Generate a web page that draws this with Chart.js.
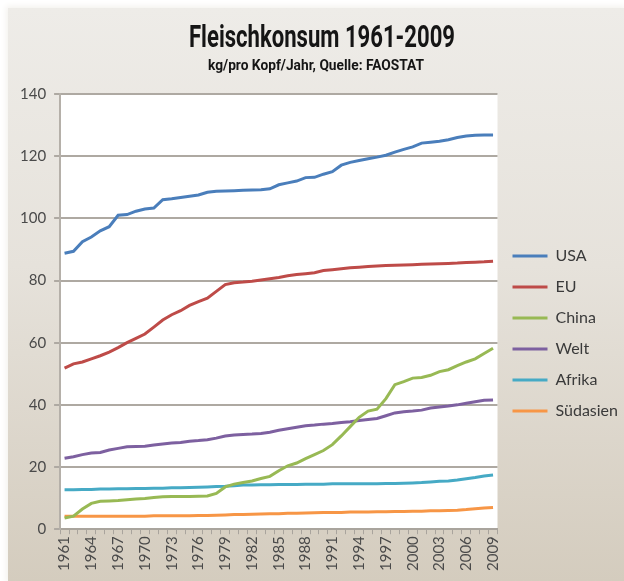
<!DOCTYPE html>
<html>
<head>
<meta charset="utf-8">
<script src="https://cdn.jsdelivr.net/npm/chart.js@4.4.0/dist/chart.umd.min.js"></script>
<style>
  html, body { margin: 0; padding: 0; background: #fff; }
  #wrap { position: relative; width: 624px; height: 581px; }
  #panel {
    position: absolute; left: 8px; top: 8px; right: 0; bottom: 0;
    background: linear-gradient(#eeece8, #e6e2db 45%, #d4ccbe);
    box-shadow: 0 0 6px 2px #f4f2ee;
  }
  canvas { position: absolute; left: 0; top: 0; }
</style>
</head>
<body>
<div id="wrap">
  <div id="panel"></div>
  <canvas id="meatChart" width="624" height="581"></canvas>
</div>
<script>
const chartTitle = "Fleischkonsum 1961-2009";
const chartSubtitle = "kg/pro Kopf/Jahr, Quelle: FAOSTAT";

const years = [];
for (let y = 1961; y <= 2009; y++) years.push(String(y));

const usa = [88.8, 89.4, 92.5, 94, 96, 97.3, 101, 101.2, 102.3, 103, 103.3, 106, 106.3, 106.7, 107.1, 107.5,
  108.4, 108.7, 108.8, 108.9, 109, 109.1, 109.2, 109.5, 110.8, 111.4, 112, 113.1, 113.2, 114.2, 115, 117.1,
  118, 118.6, 119.2, 119.7, 120.3, 121.3, 122.2, 123, 124.2, 124.5, 124.8, 125.3, 126, 126.5, 126.7, 126.8, 126.8];
const eu = [51.8, 53.2, 53.8, 54.8, 55.8, 57, 58.4, 60, 61.4, 62.8, 65, 67.3, 69, 70.3, 72, 73.2,
  74.3, 76.5, 78.7, 79.3, 79.5, 79.8, 80.2, 80.6, 81, 81.5, 81.9, 82.2, 82.5, 83.2, 83.5, 83.8,
  84.1, 84.3, 84.5, 84.7, 84.8, 84.9, 85, 85.1, 85.2, 85.3, 85.4, 85.5, 85.6, 85.8, 85.9, 86, 86.2];
const china = [3.6, 4.2, 6.5, 8.3, 9, 9.1, 9.2, 9.5, 9.7, 9.9, 10.2, 10.4, 10.5, 10.5, 10.5, 10.6,
  10.7, 11.5, 13.6, 14.5, 15, 15.5, 16.3, 17, 18.8, 20.4, 21.3, 22.7, 24, 25.3, 27.2, 30,
  33, 36, 38, 38.6, 42, 46.5, 47.5, 48.6, 48.8, 49.5, 50.7, 51.3, 52.6, 53.8, 54.8, 56.5, 58.2];
const welt = [22.8, 23.3, 24, 24.5, 24.7, 25.5, 26, 26.5, 26.6, 26.7, 27.1, 27.4, 27.7, 27.9, 28.3, 28.5,
  28.8, 29.3, 30, 30.3, 30.5, 30.6, 30.8, 31.2, 31.8, 32.3, 32.8, 33.3, 33.5, 33.8, 34, 34.3,
  34.6, 35, 35.3, 35.6, 36.5, 37.4, 37.8, 38, 38.3, 39, 39.3, 39.6, 40, 40.5, 41, 41.5, 41.6];
const afrika = [12.7, 12.7, 12.8, 12.8, 12.9, 12.9, 13, 13, 13.1, 13.1, 13.2, 13.2, 13.3, 13.3, 13.4, 13.5,
  13.6, 13.7, 13.8, 14, 14.2, 14.2, 14.3, 14.3, 14.4, 14.4, 14.4, 14.5, 14.5, 14.5, 14.6, 14.6,
  14.6, 14.6, 14.6, 14.6, 14.7, 14.7, 14.8, 14.9, 15, 15.2, 15.4, 15.5, 15.8, 16.2, 16.6, 17.1, 17.4];
const suedasien = [4.2, 4.2, 4.2, 4.2, 4.2, 4.2, 4.2, 4.2, 4.2, 4.2, 4.3, 4.3, 4.3, 4.3, 4.3, 4.4,
  4.4, 4.5, 4.6, 4.7, 4.7, 4.8, 4.9, 5, 5, 5.1, 5.1, 5.2, 5.3, 5.4, 5.4, 5.4,
  5.5, 5.5, 5.5, 5.6, 5.6, 5.7, 5.7, 5.8, 5.8, 5.9, 5.9, 6, 6.1, 6.3, 6.6, 6.8, 7];

const seriesNames = ["USA", "EU", "China", "Welt", "Afrika", "Südasien"];
const seriesData = [usa, eu, china, welt, afrika, suedasien];
const seriesColors = ["#4a7ebb", "#be4b48", "#98b954", "#7d60a0", "#46aac5", "#f79646"];

// white plot area
const plotBackground = {
  id: "plotBackground",
  beforeDraw(chart) {
    const { ctx, chartArea } = chart;
    ctx.save();
    ctx.fillStyle = "#ffffff";
    ctx.fillRect(chartArea.left, chartArea.top, chartArea.right - chartArea.left, chartArea.bottom - chartArea.top);
    ctx.restore();
  },
};

// condensed heading: squeeze a bold face to the width of the original
function drawSqueezed(ctx, text, font, cx, baseline, width) {
  ctx.save();
  ctx.font = font;
  const w = ctx.measureText(text).width;
  const s = Math.min(1, width / w);
  ctx.translate(cx, baseline);
  ctx.scale(s, 1);
  ctx.textAlign = "center";
  ctx.textBaseline = "alphabetic";
  ctx.fillStyle = "#151515";
  ctx.fillText(text, 0, 0);
  ctx.restore();
}

const headings = {
  id: "headings",
  afterDraw(chart) {
    const ctx = chart.ctx;
    drawSqueezed(ctx, chartTitle, "bold 31px Roboto", 322, 47, 266);
    drawSqueezed(ctx, chartSubtitle, "bold 14px Roboto", 316, 70, 216);
  },
};

const ctx = document.getElementById("meatChart");
const meatChart = new Chart(ctx, {
  type: "line",
  data: {
    labels: years,
    datasets: seriesNames.map((name, i) => ({
      label: name,
      data: seriesData[i],
      borderColor: seriesColors[i],
      backgroundColor: seriesColors[i],
      borderWidth: 3,
      pointRadius: 0,
      tension: 0,
      fill: false,
    })),
  },
  options: {
    responsive: false,
    animation: false,
    layout: {
      padding: { top: 94, left: 12, right: -4, bottom: 8 },
    },
    scales: {
      x: {
        offset: true,
        grid: {
          offset: true,
          drawOnChartArea: false,
          color: "#a9a49d",
          tickLength: 5,
        },
        border: { color: "#a9a49d", width: 2 },
        ticks: {
          autoSkip: false,
          minRotation: 90,
          maxRotation: 90,
          color: "#4a4a4a",
          font: { family: "Lato", size: 15 },
          padding: 2,
          callback: function (value, index) {
            return index % 3 === 0 ? this.getLabelForValue(value) : "";
          },
        },
      },
      y: {
        min: 0,
        max: 140,
        ticks: {
          stepSize: 20,
          color: "#4a4a4a",
          font: { family: "Lato", size: 15 },
          padding: 8,
        },
        grid: {
          color: "#aea9a2",
          lineWidth: 2,
          tickLength: 6,
        },
        border: { color: "#b5b0a9", width: 2 },
      },
    },
    plugins: {
      title: { display: false },
      subtitle: { display: false },
      legend: {
        position: "right",
        labels: {
          usePointStyle: true,
          pointStyle: "line",
          pointStyleWidth: 35,
          color: "#3a3a3a",
          font: { family: "Lato", size: 16 },
          padding: 15,
        },
      },
      tooltip: { enabled: false },
    },
  },
  plugins: [plotBackground, headings],
});
</script>
</body>
</html>
